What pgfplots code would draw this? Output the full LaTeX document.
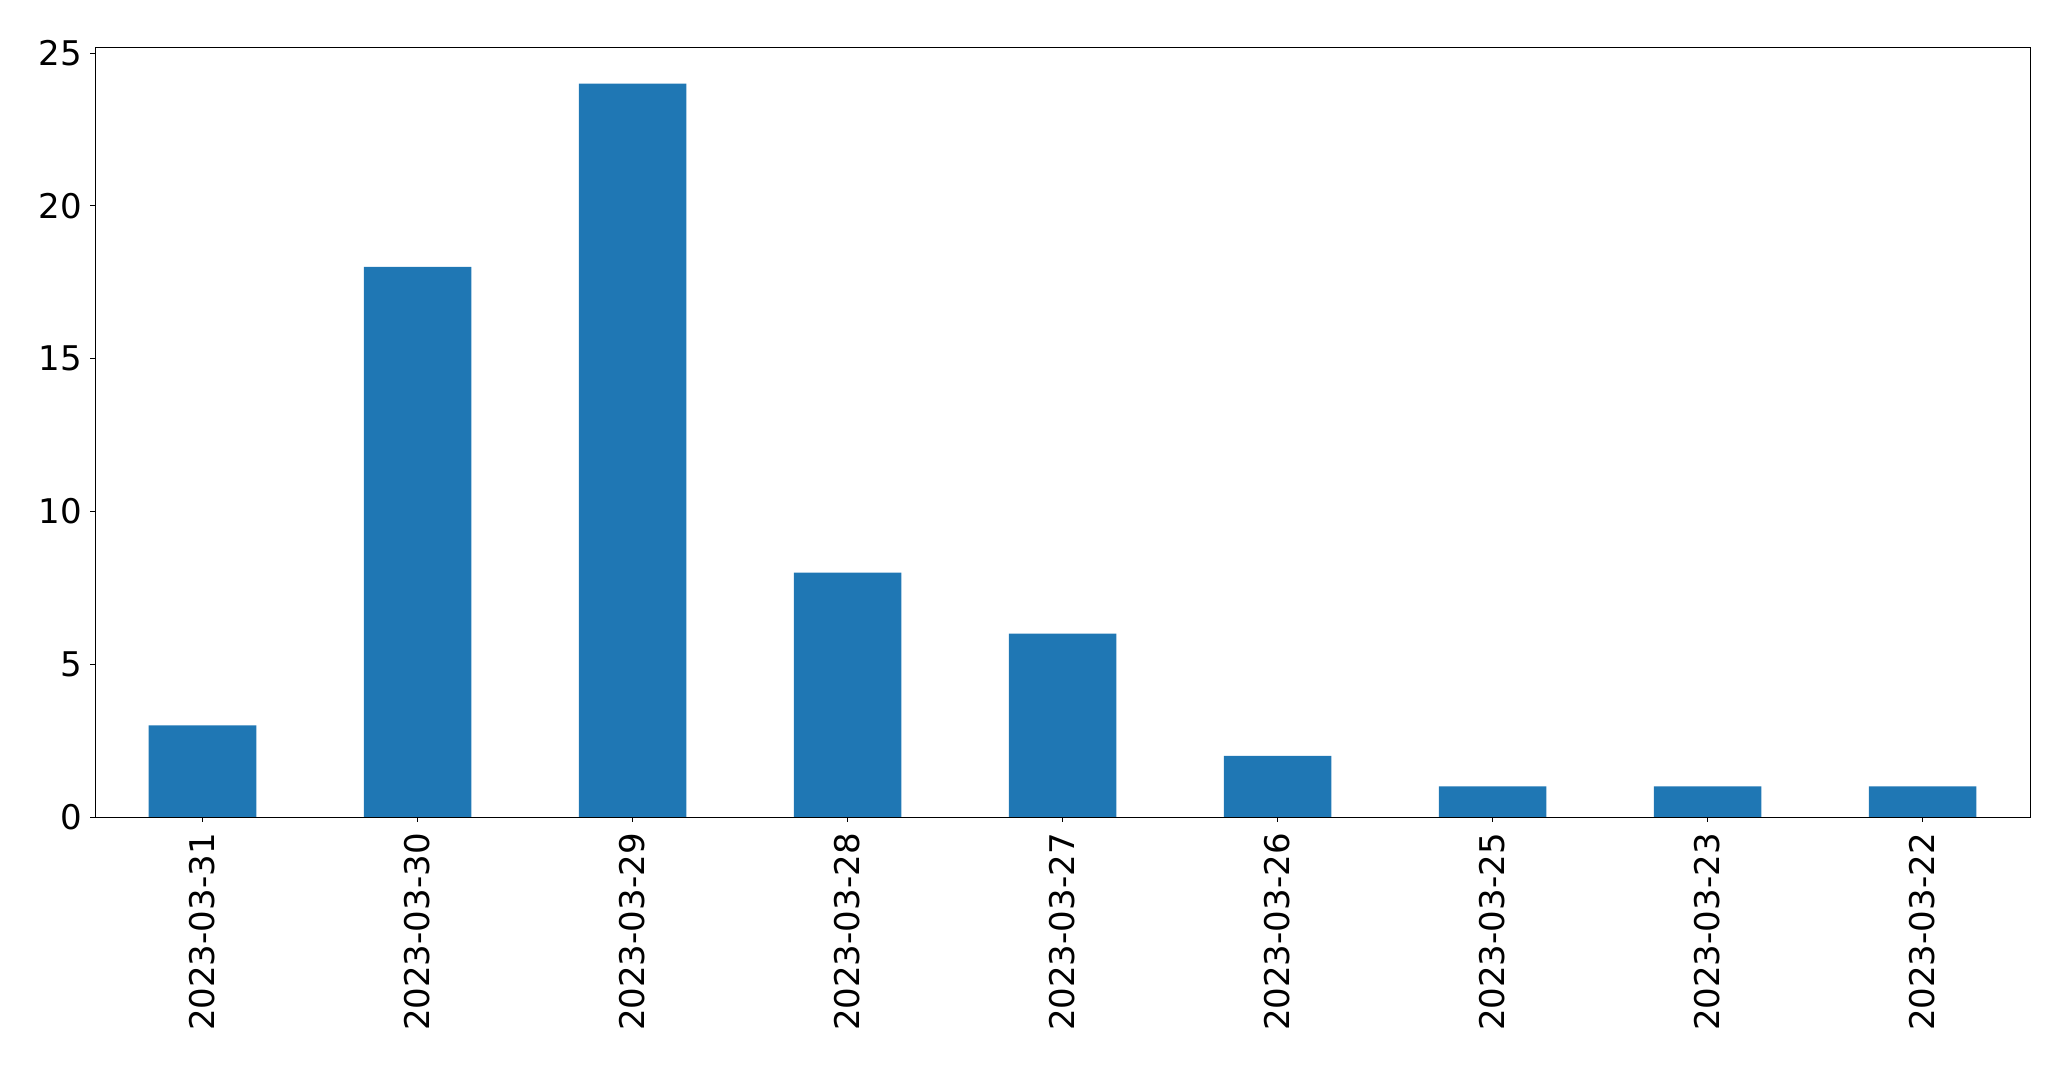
\documentclass[border=0pt]{standalone}
\usepackage{pgfplots}
\pgfplotsset{compat=1.18}
\usepackage{fontspec}
\setmainfont{DejaVu Sans}
\definecolor{mplblue}{HTML}{1F77B4}
\begin{document}
\begin{tikzpicture}
\begin{axis}[
  name=ax,
  scale only axis,
  width=967.5pt, height=385pt,
  xmin=-0.5, xmax=8.5, ymin=0, ymax=25.2,
  xtick=data,
  xticklabels={2023-03-31,2023-03-30,2023-03-29,2023-03-28,2023-03-27,2023-03-26,2023-03-25,2023-03-23,2023-03-22},
  ytick={0,5,10,15,20,25},
  tick align=outside,
  tick pos=left,
  major tick length=2.45pt,
  tick style={black, line width=0.4pt},
  axis line style={black, line width=0.4pt},
  /pgf/number format/assume math mode=true,
  tick label style={font=\fontsize{17}{20}\selectfont},
  xticklabel style={rotate=90, anchor=east, inner sep=0pt, xshift=-5.5pt},
  yticklabel style={anchor=east, inner sep=0pt, xshift=-3.8pt},
]
\addplot[ybar, bar width=53.75pt, fill=mplblue, draw=none, bar shift=0pt]
  coordinates {(0,3) (1,18) (2,24) (3,8) (4,6) (5,2) (6,1) (7,1) (8,1)};
\end{axis}
\path ([xshift=-47.5pt,yshift=-126pt]ax.south west) rectangle ([xshift=20.5pt,yshift=23.5pt]ax.north east);
\end{tikzpicture}
\end{document}
